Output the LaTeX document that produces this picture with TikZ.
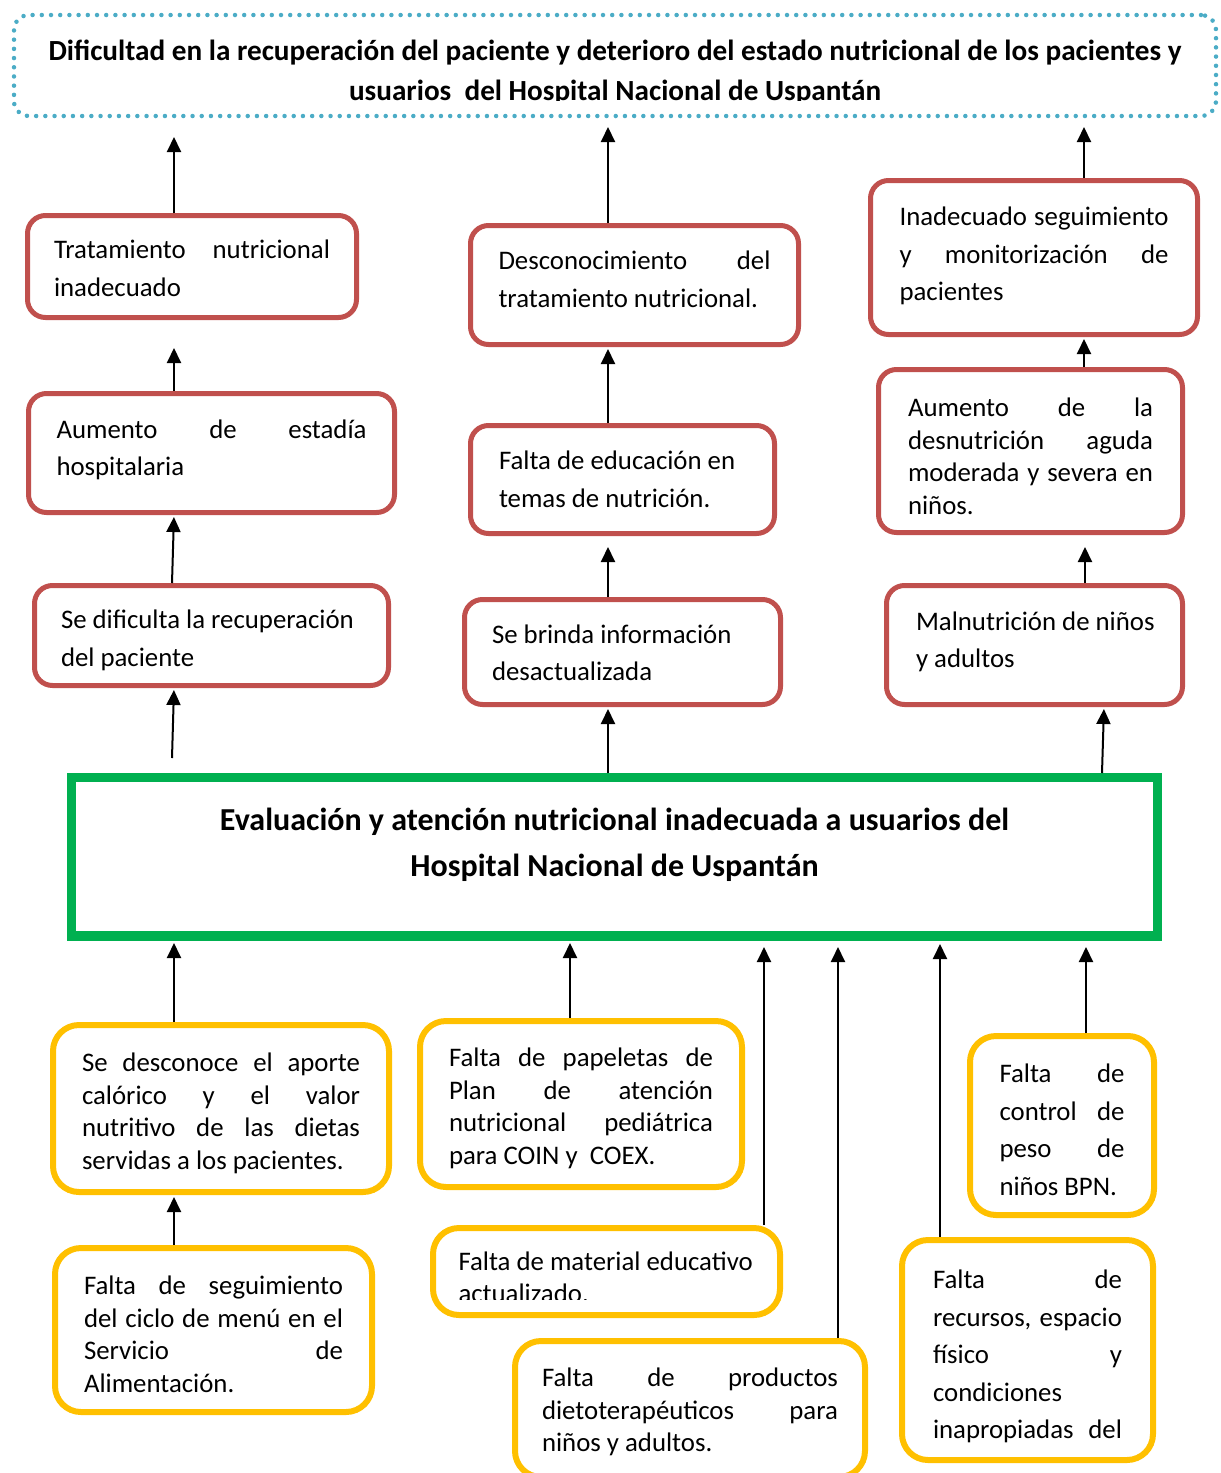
\documentclass[tikz,border=0pt]{standalone}
\usepackage{fontspec}
\setmainfont{Carlito}
\usetikzlibrary{arrows.meta}
\definecolor{redb}{RGB}{192,80,77}
\definecolor{yelb}{RGB}{255,192,0}
\definecolor{grnb}{RGB}{0,176,80}
\definecolor{dotb}{RGB}{75,172,198}
% justified line / natural line / last justified / last natural
\newcommand\jl[1]{\makebox[\hsize][s]{\spaceskip=.226em plus 1fil\xspaceskip=\spaceskip\relax #1}\\}
\newcommand\jn[1]{\makebox[\hsize][l]{\spaceskip=.226em\xspaceskip=\spaceskip\relax #1}\\}
\newcommand\jlast[1]{\makebox[\hsize][s]{\spaceskip=.226em plus 1fil\xspaceskip=\spaceskip\relax #1}}
\newcommand\jnl[1]{\makebox[\hsize][l]{\spaceskip=.226em\xspaceskip=\spaceskip\relax #1}}
\newcommand\natsp{\spaceskip=.226em\xspaceskip=\spaceskip\relax}
\tikzset{
  fs/.style={font=\fontsize{26.8}{#1}\selectfont},
  fb/.style={text height=0pt, text depth=#1pt-6pt},
  rbox/.style={draw=redb, line width=5pt, rounded corners=18pt, align=left, inner sep=0pt},
  ybox/.style={draw=yelb, line width=6pt, rounded corners=26pt, align=left, inner sep=0pt},
  arr/.style={line width=2pt, -{Triangle[length=15pt,width=14pt]}, shorten >=2pt},
}
\begin{document}
\begin{tikzpicture}[x=1pt,y=-1pt]
\useasboundingbox (0,0) rectangle (1221,1473);
% top effect box
\node[draw=dotb, line width=4.5pt, dash pattern=on 0pt off 9.2pt, line cap=round,
      rounded corners=15pt, minimum width=1202pt, minimum height=101pt, inner sep=0pt,
      font=\bfseries\fontsize{29.2}{40}\selectfont, align=center, text width=1200pt, fb=17] (top) at (615,65.5)
  {\natsp Dificultad en la recuperación del paciente y deterioro del estado nutricional de los pacientes y\\usuarios\ \ del Hospital Nacional de Uspantán};
\fill[white] (340,101) rectangle (890,111);
% central problem
\node[draw=grnb, line width=8pt, minimum width=1087pt, minimum height=160pt, inner sep=0pt,
      font=\bfseries\fontsize{32}{46}\selectfont, align=center, text width=1080pt, fb=60] (main) at (614.5,857)
  {\natsp Evaluación y atención nutricional inadecuada a usuarios del\\Hospital Nacional de Uspantán};
\draw[grnb, line width=2pt] ([shift={(8,8)}]main.north west) rectangle ([shift={(-8,-9)}]main.south east);
% red effect boxes
\node[rbox, fs=38, fb=22, minimum width=329pt, minimum height=102pt, text width=276pt] (n1) at (192,266.5)
  {\jl{Tratamiento nutricional}\jnl{inadecuado}};
\node[rbox, fs=38, fb=37, minimum width=328pt, minimum height=119pt, text width=272pt] (n2) at (634.5,285)
  {\jl{Desconocimiento del}\jnl{tratamiento nutricional.}};
\node[rbox, fs=37.5, fb=70, minimum width=327pt, minimum height=154pt, text width=269pt] (n3) at (1034,257.5)
  {\jl{Inadecuado seguimiento}\jl{y monitorización de}\jnl{pacientes}};
\node[rbox, fs=37, fb=35, minimum width=366pt, minimum height=119pt, text width=310pt] (n4) at (211.5,453)
  {\jl{Aumento de estadía}\jnl{hospitalaria}};
\node[rbox, fs=38, fb=26, minimum width=304pt, minimum height=108pt, text width=247pt] (n5) at (622.5,479.5)
  {\jn{Falta de educación en}\jnl{temas de nutrición.}};
\node[rbox, fs=32.5, fb=75, minimum width=304pt, minimum height=163pt, text width=245pt] (n6) at (1030.5,451)
  {\jl{Aumento de la}\jl{desnutrición aguda}\jl{moderada y severa en}\jnl{niños.}};
\node[rbox, fs=38, fb=20, minimum width=354pt, minimum height=100pt, text width=301pt] (n7) at (211.5,635.5)
  {\jn{Se dificulta la recuperación}\jnl{del paciente}};
\node[rbox, fs=37, fb=23, minimum width=316pt, minimum height=105pt, text width=261pt] (n8) at (622.5,652)
  {\jn{Se brinda información}\jnl{desactualizada}};
\node[rbox, fs=37, fb=35, minimum width=296pt, minimum height=119pt, text width=237pt] (n9) at (1034.5,645)
  {\jn{Malnutrición de niños}\jnl{y adultos}};
% yellow cause boxes
\node[ybox, fs=32.5, fb=80, minimum width=336pt, minimum height=167pt, text width=278pt] (n10) at (221,1108.5)
  {\jl{Se desconoce el aporte}\jl{calórico y el valor}\jl{nutritivo de las dietas}\jnl{servidas a los pacientes.}};
\node[ybox, fs=32.7, fb=81, minimum width=322pt, minimum height=166pt, text width=264pt] (n11) at (581,1104)
  {\jl{Falta de papeletas de}\jl{Plan de atención}\jl{nutricional pediátrica}\jnl{para COIN y\ \ COEX.}};
\node[ybox, fs=32, fb=8, minimum width=347pt, minimum height=87pt, text width=296pt] (n12) at (606.5,1271.5)
  {\jn{Falta de material educativo}\jnl{actualizado.}};
\fill[white] (455,1299.5) rectangle (620,1311);
\node[ybox, fs=32.5, fb=51, minimum width=350pt, minimum height=136pt, text width=296pt] (n13) at (690,1409)
  {\jl{Falta de productos}\jl{dietoterapéuticos para}\jnl{niños y adultos.}};
\node[ybox, fs=37.7, fb=92, minimum width=184pt, minimum height=179pt, text width=125pt] (n14) at (1062,1125.5)
  {\jl{Falta de}\jl{control de}\jl{peso de}\jnl{niños BPN.}};
\node[ybox, fs=37.5, fb=129, minimum width=251pt, minimum height=220pt, text width=189pt] (n15) at (1027.5,1350)
  {\jl{Falta de}\jl{recursos, espacio}\jl{físico y}\jn{condiciones}\jlast{inapropiadas del}};
\node[ybox, fs=32.7, fb=77, minimum width=317pt, minimum height=164pt, text width=259pt] (n16) at (213.5,1330)
  {\jl{Falta de seguimiento}\jl{del ciclo de menú en el}\jl{Servicio de}\jnl{Alimentación.}};
% helper coordinates
\coordinate (x172) at (172,0);
\coordinate (x174) at (174,0);
\coordinate (x570) at (570,0);
\coordinate (x608) at (608,0);
\coordinate (x764) at (764,0);
\coordinate (x838) at (838,0);
\coordinate (x940) at (940,0);
\coordinate (x1084) at (1084,0);
\coordinate (x1085) at (1085,0);
\coordinate (x1086) at (1086,0);
\coordinate (x1102) at (1102,0);
\coordinate (x1104) at (1104,0);
\coordinate (u1s) at (172,758);
\coordinate (u3e) at (174,348);
\coordinate (u4e) at (174,137);
\coordinate (m2e) at (608,547);
\coordinate (m4e) at (608,127);
\coordinate (r2e) at (1085,547);
\coordinate (r4e) at (1084,127);
% upper arrows
\draw[arr] (u1s) -- (n7.south -| x174);
\draw[arr] (n7.north -| x172) -- (n4.south -| x174);
\draw[arr, shorten >=0pt] (n4.north -| x174) -- (u3e);
\draw[arr, shorten >=0pt] (n1.north -| x174) -- (u4e);
\draw[arr] (main.north -| x608) -- (n8.south -| x608);
\draw[arr, shorten >=0pt] (n8.north -| x608) -- (m2e);
\draw[arr] (n5.north -| x608) -- (n2.south -| x608);
\draw[arr, shorten >=0pt] (n2.north -| x608) -- (m4e);
\draw[arr] (main.north -| x1102) -- (n9.south -| x1104);
\draw[arr, shorten >=0pt] (n9.north -| x1085) -- (r2e);
\draw[arr] (n6.north -| x1084) -- (n3.south -| x1084);
\draw[arr, shorten >=0pt] (n3.north -| x1084) -- (r4e);
% lower arrows
\draw[arr] (n10.north -| x174) -- (main.south -| x174);
\draw[arr] (n11.north -| x570) -- (main.south -| x570);
\draw[arr, shorten >=6pt] (n12.north -| x764) -- (main.south -| x764);
\draw[arr, shorten >=6pt] (n13.north -| x838) -- (main.south -| x838);
\draw[arr, shorten >=3pt] (n15.north -| x940) -- (main.south -| x940);
\draw[arr, shorten >=6pt] (n14.north -| x1086) -- (main.south -| x1086);
\draw[arr] (n16.north -| x174) -- (n10.south -| x174);
\end{tikzpicture}
\end{document}
